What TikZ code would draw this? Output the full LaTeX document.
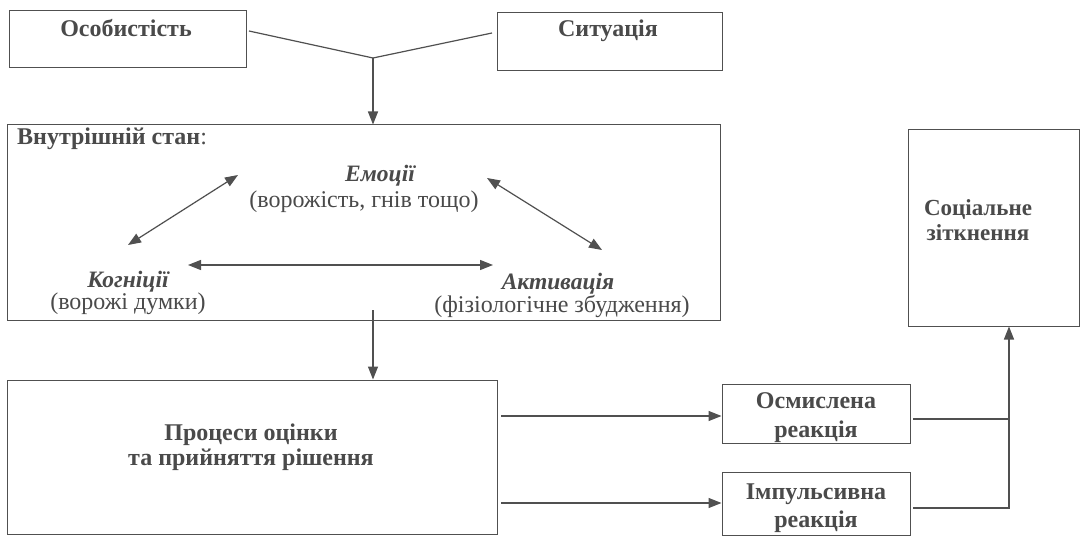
\documentclass[tikz,border=0pt]{standalone}
\usepackage{fontspec}
\setmainfont{Liberation Serif}
\usetikzlibrary{arrows.meta}
\definecolor{lc}{HTML}{505050}
\definecolor{tc}{HTML}{4A4A4A}
\begin{document}
\begin{tikzpicture}[x=1pt,y=-1pt,
  box/.style={draw=lc, line width=1pt, inner sep=0pt, rectangle},
  btxt/.style={text=tc, font=\fontsize{24}{24}\selectfont\bfseries, align=center, inner sep=0pt},
  itxt/.style={text=tc, font=\fontsize{23.5}{24}\selectfont\bfseries\itshape, align=center, inner sep=0pt},
  rtxt/.style={text=tc, font=\fontsize{24}{24}\selectfont, align=center, inner sep=0pt},
  conn/.style={draw=lc, line width=1.2pt},
  arr/.style={conn, -{Triangle[length=13pt,width=10pt]}},
  darr/.style={conn, {Triangle[length=13pt,width=10pt]}-{Triangle[length=13pt,width=10pt]}}
]
\useasboundingbox (0,0) rectangle (1086,537);
\fill[white] (0,0) rectangle (1086,537);

% top boxes
\node[box, minimum width=237pt, minimum height=57pt] (osob) at (127.5,39.5) {};
\node[btxt] (osobt) at (126,28) {Особистість};
\node[box, minimum width=225pt, minimum height=58pt] (sit) at (609.5,42) {};
\node[btxt] (sitt) at (608,31) {Ситуація};

% inner state box
\node[box, minimum width=713pt, minimum height=195pt] (inner) at (363.5,222.5) {};
\node[btxt, anchor=west] (innert) at (17,139) {Внутрішній стан\mdseries:};
\node[itxt] (emo) at (380,176) {Емоції};
\node[rtxt] (emop) at (364,202) {(ворожість, гнів тощо)};
\node[itxt] (kog) at (128,282) {Когніції};
\node[rtxt] (kogp) at (128,304) {(ворожі думки)};
\node[itxt] (akt) at (558,284) {Активація};
\node[rtxt] (aktp) at (562,306) {(фізіологічне збудження)};

% social box
\node[box, minimum width=171pt, minimum height=196pt] (soc) at (993.5,228) {};
\node[btxt, font=\fontsize{23}{25}\selectfont\bfseries] (soct) at (978,220) {Соціальне\\зіткнення};

% process box
\node[box, minimum width=490pt, minimum height=154pt] (proc) at (252,457) {};
\node[btxt, font=\fontsize{24}{25}\selectfont\bfseries] (proct) at (251,447) {Процеси оцінки\\та прийняття рішення};

% reactions
\node[box, minimum width=188pt, minimum height=59pt] (osm) at (816,413.5) {};
\node[btxt, font=\fontsize{24}{29}\selectfont\bfseries] (osmt) at (816,418) {Осмислена\\реакція};
\node[box, minimum width=188pt, minimum height=63pt] (imp) at (816,503.5) {};
\node[btxt, font=\fontsize{24}{28}\selectfont\bfseries] (impt) at (816,508) {Імпульсивна\\реакція};

% connectors top
\coordinate (j) at (373,58);
\coordinate (osobr) at (249,31);
\coordinate (sitl) at (492,33);
\draw[conn] (osobr) -- (j);
\draw[conn] (sitl) -- (j);
\draw[arr] (j) -- (j |- inner.north);

% triangle arrows
\coordinate (a1) at (128,245);
\coordinate (a2) at (238,175);
\coordinate (b1) at (487,178);
\coordinate (b2) at (602,250);
\coordinate (c1) at (188,265);
\coordinate (c2) at (493,265);
\draw[darr] (a1) -- (a2);
\draw[darr] (b1) -- (b2);
\draw[darr] (c1) -- (c2);

% inner -> process
\coordinate (d1) at (373,310);
\draw[arr] (d1) -- (d1 |- proc.north);

% process -> reactions
\coordinate (e1) at (501,416);
\coordinate (e2) at (501,503);
\draw[arr] (e1) -- (e1 -| osm.west);
\draw[arr] (e2) -- (e2 -| imp.west);

% reactions -> social
\coordinate (f1) at (913,419);
\coordinate (f2) at (913,508);
\coordinate (g) at (1009,508);
\draw[conn] (f1) -- (f1 -| g);
\draw[arr] (f2) -- (g) -- (g |- soc.south);
\end{tikzpicture}
\end{document}
